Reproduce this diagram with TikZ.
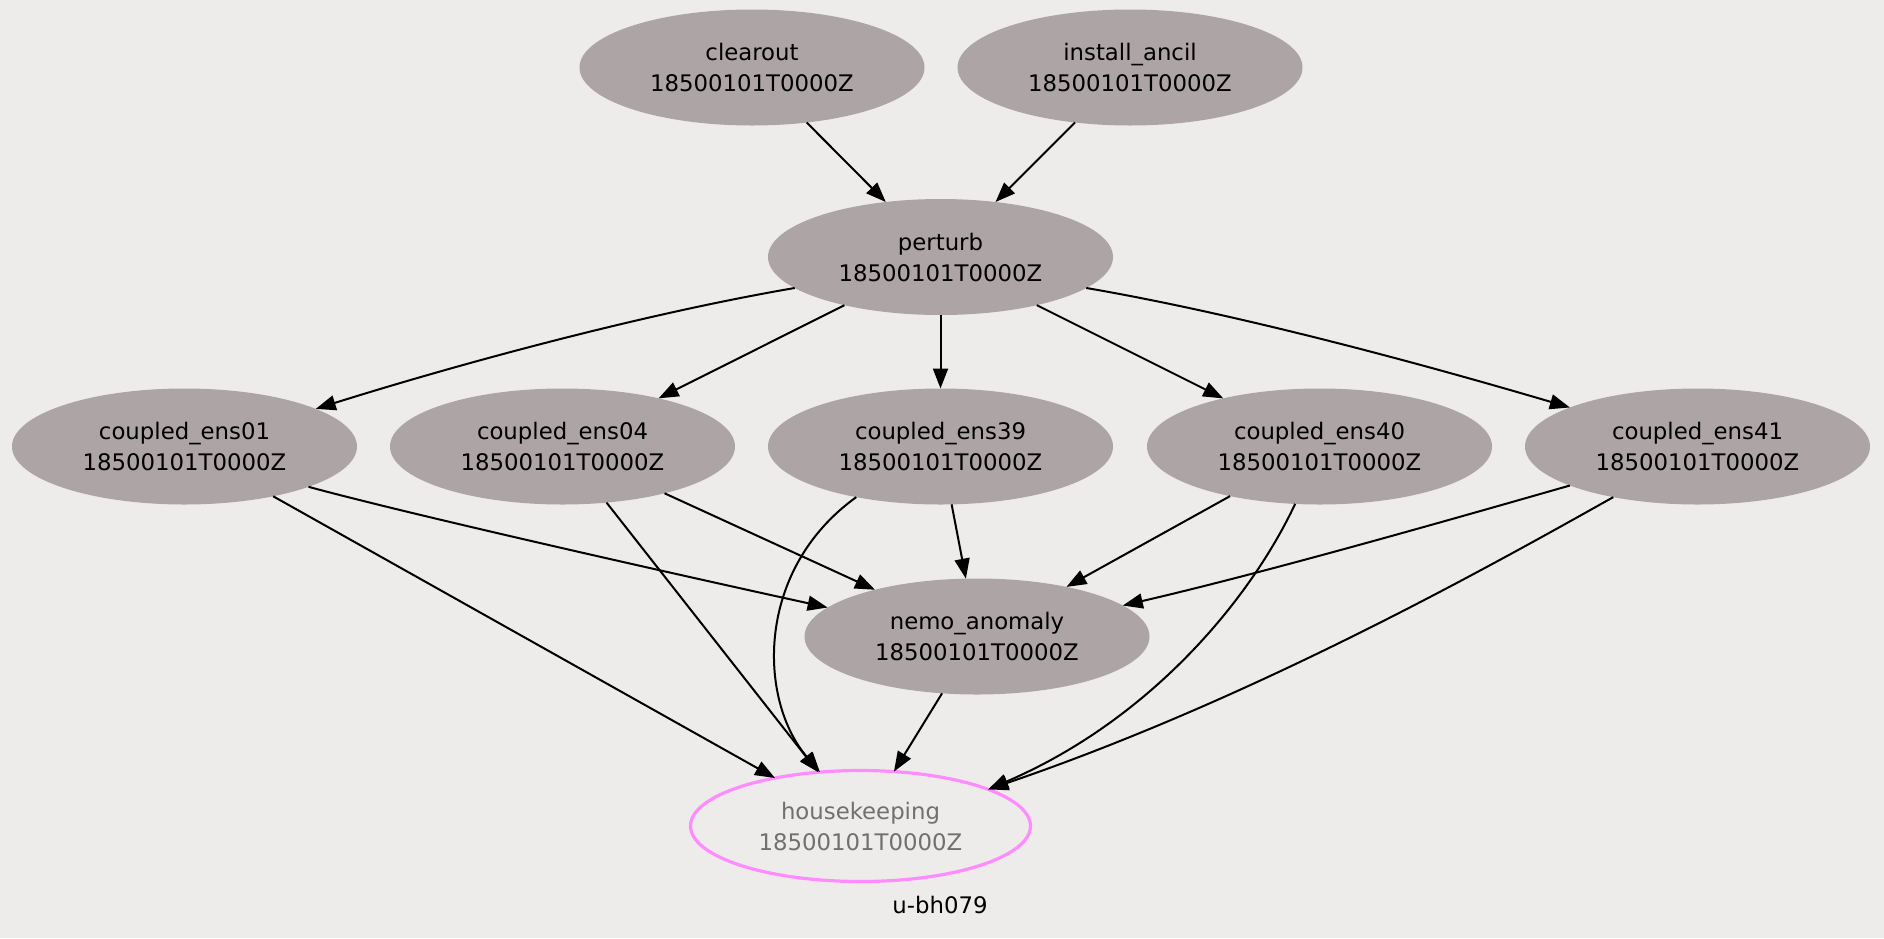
\documentclass[tikz,border=0pt]{standalone}
\usepackage{fontspec}
\setmainfont{DejaVu Sans}
\usetikzlibrary{shapes.geometric,arrows.meta}
\definecolor{bgcol}{HTML}{EDECEA}
\definecolor{taskfill}{HTML}{ADA5A5}
\definecolor{hkpink}{HTML}{FF8CFF}
\definecolor{hktext}{HTML}{707070}

\begin{document}
\begin{tikzpicture}[x=0.5pt,y=-0.5pt,
  task/.style={ellipse, fill=taskfill, minimum width=172.5pt, minimum height=58pt,
    inner sep=0pt, outer sep=0pt, align=center,
    font=\fontsize{11.4}{15.5}\selectfont},
  hktask/.style={task, fill=none, draw=hkpink, line width=1.6pt, text=hktext,
    minimum width=170pt, minimum height=55.5pt},
  dep/.style={-{Triangle[length=10pt,width=7.5pt]}, line width=1pt, black},
  graphlabel/.style={anchor=base, inner sep=0pt, font=\fontsize{11.4}{15.5}\selectfont}]

% canvas
\fill[bgcol] (0,0) rectangle (1884,938);
\useasboundingbox (0,0) rectangle (1884,938);

% tasks
\node[task] (clearout) at (752,67.5) {clearout\\18500101T0000Z};
\node[task] (ancil)    at (1130,67.5) {install\_ancil\\18500101T0000Z};
\node[task] (perturb)  at (940.5,257) {perturb\\18500101T0000Z};
\node[task] (ens01) at (184.5,446.5) {coupled\_ens01\\18500101T0000Z};
\node[task] (ens04) at (562.5,446.5) {coupled\_ens04\\18500101T0000Z};
\node[task] (ens39) at (940.5,446.5) {coupled\_ens39\\18500101T0000Z};
\node[task] (ens40) at (1319.5,446.5) {coupled\_ens40\\18500101T0000Z};
\node[task] (ens41) at (1697.5,446.5) {coupled\_ens41\\18500101T0000Z};
\node[task] (nemo)  at (977,636.5) {nemo\_anomaly\\18500101T0000Z};
\node[hktask] (hk)  at (860.5,826) {housekeeping\\18500101T0000Z};

\node[graphlabel] (suite) at (940,913) {u-bh079};

% dependencies
\draw[dep] (clearout) -- (perturb);
\draw[dep] (ancil) -- (perturb);
\draw[dep] (perturb.192.4) .. controls (643,314) and (460,363.6) .. (ens01.16.8);
\draw[dep] (perturb) -- (ens04);
\draw[dep] (perturb) -- (ens39);
\draw[dep] (perturb) -- (ens40);
\draw[dep] (perturb.-12.4) .. controls (1238,314) and (1421,363.6) .. (ens41.163.2);
\draw[dep] (ens01.-18) .. controls (412,515) and (679,575) .. (nemo.169.1);
\draw[dep] (ens01) -- (hk);
\draw[dep] (ens04) -- (nemo);
\draw[dep] (ens04) -- (hk);
\draw[dep] (ens39) -- (nemo);
\draw[dep] (ens39.211.7) .. controls (755,570) and (758,700) .. (hk.127.8);
\draw[dep] (ens40) -- (nemo);
\draw[dep] (ens40.247.3) .. controls (1250,600) and (1150,720) .. (hk.16);
\draw[dep] (ens41.197.6) .. controls (1470,514) and (1272,571) .. (nemo.12.6);
\draw[dep] (ens41.211) .. controls (1480,572) and (1250,700) .. (hk.16.5);
\draw[dep] (nemo) -- (hk);
\end{tikzpicture}
\end{document}
